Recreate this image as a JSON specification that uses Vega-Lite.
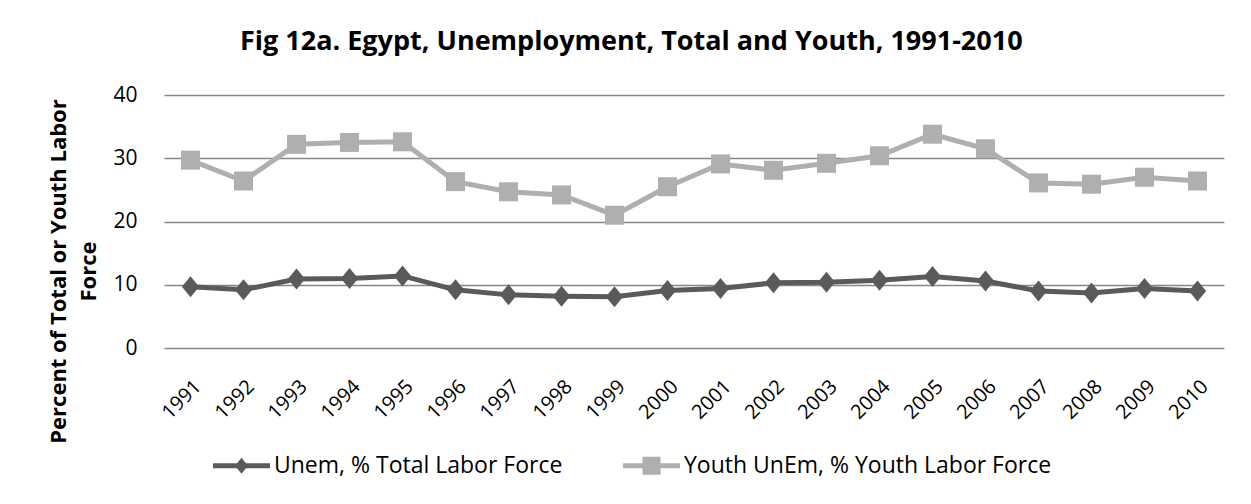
{
  "$schema": "https://vega.github.io/schema/vega-lite/v6.json",
  "autosize": {"type": "none"},
  "width": 1060,
  "height": 253,
  "padding": {"left": 164, "top": 95, "right": 27, "bottom": 156},
  "background": "white",
  "config": {
    "font": "Open Sans",
    "view": {"stroke": null}
  },
  "title": {
    "text": "Fig 12a. Egypt, Unemployment, Total and Youth, 1991-2010",
    "fontSize": 27,
    "fontWeight": "bold",
    "color": "#000000",
    "anchor": "start",
    "frame": "group",
    "dx": 76,
    "offset": 28
  },
  "data": {
    "values": [
      {"year": "1991", "series": "Unem, % Total Labor Force", "value": 9.7},
      {"year": "1992", "series": "Unem, % Total Labor Force", "value": 9.2},
      {"year": "1993", "series": "Unem, % Total Labor Force", "value": 10.9},
      {"year": "1994", "series": "Unem, % Total Labor Force", "value": 11.0},
      {"year": "1995", "series": "Unem, % Total Labor Force", "value": 11.4},
      {"year": "1996", "series": "Unem, % Total Labor Force", "value": 9.2},
      {"year": "1997", "series": "Unem, % Total Labor Force", "value": 8.4},
      {"year": "1998", "series": "Unem, % Total Labor Force", "value": 8.2},
      {"year": "1999", "series": "Unem, % Total Labor Force", "value": 8.1},
      {"year": "2000", "series": "Unem, % Total Labor Force", "value": 9.1},
      {"year": "2001", "series": "Unem, % Total Labor Force", "value": 9.4},
      {"year": "2002", "series": "Unem, % Total Labor Force", "value": 10.3},
      {"year": "2003", "series": "Unem, % Total Labor Force", "value": 10.4},
      {"year": "2004", "series": "Unem, % Total Labor Force", "value": 10.7},
      {"year": "2005", "series": "Unem, % Total Labor Force", "value": 11.3},
      {"year": "2006", "series": "Unem, % Total Labor Force", "value": 10.6},
      {"year": "2007", "series": "Unem, % Total Labor Force", "value": 9.0},
      {"year": "2008", "series": "Unem, % Total Labor Force", "value": 8.7},
      {"year": "2009", "series": "Unem, % Total Labor Force", "value": 9.4},
      {"year": "2010", "series": "Unem, % Total Labor Force", "value": 9.0},
      {"year": "1991", "series": "Youth UnEm, % Youth Labor Force", "value": 29.7},
      {"year": "1992", "series": "Youth UnEm, % Youth Labor Force", "value": 26.4},
      {"year": "1993", "series": "Youth UnEm, % Youth Labor Force", "value": 32.2},
      {"year": "1994", "series": "Youth UnEm, % Youth Labor Force", "value": 32.5},
      {"year": "1995", "series": "Youth UnEm, % Youth Labor Force", "value": 32.6},
      {"year": "1996", "series": "Youth UnEm, % Youth Labor Force", "value": 26.3},
      {"year": "1997", "series": "Youth UnEm, % Youth Labor Force", "value": 24.7},
      {"year": "1998", "series": "Youth UnEm, % Youth Labor Force", "value": 24.2},
      {"year": "1999", "series": "Youth UnEm, % Youth Labor Force", "value": 21.0},
      {"year": "2000", "series": "Youth UnEm, % Youth Labor Force", "value": 25.5},
      {"year": "2001", "series": "Youth UnEm, % Youth Labor Force", "value": 29.1},
      {"year": "2002", "series": "Youth UnEm, % Youth Labor Force", "value": 28.1},
      {"year": "2003", "series": "Youth UnEm, % Youth Labor Force", "value": 29.2},
      {"year": "2004", "series": "Youth UnEm, % Youth Labor Force", "value": 30.4},
      {"year": "2005", "series": "Youth UnEm, % Youth Labor Force", "value": 33.8},
      {"year": "2006", "series": "Youth UnEm, % Youth Labor Force", "value": 31.5},
      {"year": "2007", "series": "Youth UnEm, % Youth Labor Force", "value": 26.1},
      {"year": "2008", "series": "Youth UnEm, % Youth Labor Force", "value": 25.9},
      {"year": "2009", "series": "Youth UnEm, % Youth Labor Force", "value": 27.0},
      {"year": "2010", "series": "Youth UnEm, % Youth Labor Force", "value": 26.4}
    ]
  },
  "encoding": {
    "x": {
      "field": "year",
      "type": "ordinal",
      "scale": {"type": "point", "padding": 0.5},
      "axis": {
        "title": null,
        "labelAngle": -45,
        "labelFontSize": 20,
        "labelColor": "#000000",
        "labelPadding": 28,
        "domain": false,
        "ticks": false
      }
    },
    "y": {
      "field": "value",
      "type": "quantitative",
      "scale": {"domain": [0, 40], "nice": false},
      "axis": {
        "values": [0, 10, 20, 30, 40],
        "title": ["Percent of Total or Youth Labor", "Force"],
        "titleFontSize": 22,
        "titleFontWeight": "bold",
        "titleColor": "#000000",
        "titleLineHeight": 30,
        "titlePadding": 12,
        "titleY": 176,
        "labelFontSize": 21,
        "labelColor": "#000000",
        "labelPadding": 27,
        "domain": false,
        "ticks": false,
        "grid": true,
        "gridColor": "#868686",
        "gridWidth": 1.5
      }
    },
    "color": {
      "field": "series",
      "type": "nominal",
      "scale": {
        "domain": ["Unem, % Total Labor Force", "Youth UnEm, % Youth Labor Force"],
        "range": ["#5A5A5A", "#AFAFAF"]
      },
      "legend": {
        "title": null,
        "orient": "none",
        "direction": "horizontal",
        "legendX": 49,
        "legendY": 342,
        "labelFontSize": 23,
        "labelColor": "#000000",
        "labelLimit": 800,
        "symbolSize": 3249,
        "labelOffset": 4,
        "columnPadding": 60,
        "encode": {
          "symbols": {
            "update": {
              "shape": {"signal": "datum.value == 'Unem, % Total Labor Force' ? 'M-1,-0.088 L-0.158,-0.088 L0,-0.28 L0.158,-0.088 L1,-0.088 L1,0.088 L0.158,0.088 L0,0.28 L-0.158,0.088 L-1,0.088 Z' : 'M-1,-0.088 L-0.316,-0.088 L-0.316,-0.316 L0.316,-0.316 L0.316,-0.088 L1,-0.088 L1,0.088 L0.316,0.088 L0.316,0.316 L-0.316,0.316 L-0.316,0.088 L-1,0.088 Z'"},
              "fill": {"signal": "datum.value == 'Unem, % Total Labor Force' ? '#5A5A5A' : '#AFAFAF'"},
              "stroke": {"value": "transparent"},
              "strokeWidth": {"value": 0},
              "size": {"value": 3249},
              "opacity": {"value": 1}
            }
          }
        }
      }
    }
  },
  "layer": [
    {
      "mark": {"type": "line", "strokeWidth": 5}
    },
    {
      "transform": [{"filter": "datum.series == 'Unem, % Total Labor Force'"}],
      "mark": {"type": "point", "filled": true, "opacity": 1, "strokeWidth": 0, "shape": "M0,-1 L0.82,0 L0,1 L-0.82,0 Z", "size": 441}
    },
    {
      "transform": [{"filter": "datum.series == 'Youth UnEm, % Youth Labor Force'"}],
      "mark": {"type": "point", "filled": true, "opacity": 1, "strokeWidth": 0, "shape": "square", "size": 361}
    }
  ]
}
